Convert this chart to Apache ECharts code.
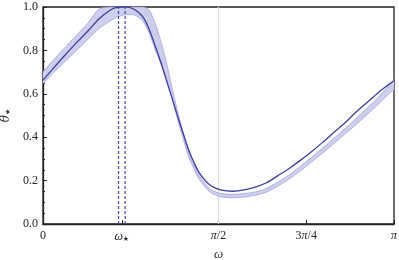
<!DOCTYPE html>
<html><head><meta charset="utf-8">
<script src="https://cdn.jsdelivr.net/npm/echarts@6/dist/echarts.min.js"></script>
<style>html,body{margin:0;padding:0;background:#fff}#c{width:399px;height:260px}</style>
</head><body><div id="c"></div>
<script>
const omega = [0.0,0.1,0.2,0.3,0.4,0.5,0.6,0.65,0.7,0.75,0.8,0.85,0.9,0.95,1.0,1.05,1.1,1.15,1.2,1.25,1.3,1.35,1.4,1.5,1.6,1.7,1.8,1.9,2.0,2.1,2.2,2.3,2.4,2.5,2.6,2.7,2.8,2.9,3.0,3.1,3.14159];
const theta = [0.663,0.722,0.780,0.836,0.888,0.945,0.985,0.997,1.0,1.0,0.993,0.977,0.950,0.898,0.826,0.752,0.670,0.588,0.505,0.425,0.347,0.285,0.235,0.177,0.156,0.151,0.157,0.170,0.190,0.222,0.255,0.292,0.332,0.375,0.420,0.465,0.515,0.560,0.605,0.645,0.660];
const bandLow = [0.648,0.700,0.750,0.800,0.850,0.900,0.935,0.950,0.960,0.965,0.965,0.955,0.930,0.880,0.810,0.745,0.680,0.588,0.490,0.402,0.315,0.256,0.204,0.145,0.125,0.121,0.124,0.132,0.147,0.174,0.206,0.243,0.284,0.326,0.369,0.413,0.457,0.504,0.551,0.602,0.620];
const bandHigh = [0.700,0.760,0.815,0.870,0.925,0.990,1.0,1.0,1.0,1.0,1.0,1.0,1.0,0.985,0.930,0.850,0.755,0.640,0.530,0.428,0.335,0.272,0.222,0.160,0.140,0.137,0.140,0.148,0.164,0.193,0.225,0.264,0.306,0.349,0.393,0.439,0.485,0.534,0.583,0.640,0.665];
const omegaStar = 0.705;
const starBounds = [0.676, 0.735];
const xTicks = [0, omegaStar, Math.PI/2, 3*Math.PI/4, Math.PI];
const xTickLabels = ['0', '{i|ω}{s|★}', '{i|π}/2', '3{i|π}/4', '{i|π}'];

const chart = echarts.init(document.getElementById('c'));
const pts = a => omega.map((w,i)=>[w,a[i]]);
const font = 'Liberation Serif';
const rich = {i:{fontStyle:'italic',fontFamily:font,fontSize:12,color:'#222'},s:{fontSize:7,fontFamily:'DejaVu Sans',verticalAlign:'bottom',padding:[6,0,0,0],color:'#222'}};
chart.setOption({
  animation:false,
  grid:{left:43,right:5,top:7,bottom:36,show:true,borderColor:'#222',borderWidth:1.3,outerBoundsMode:'none',containLabel:false},
  xAxis:{type:'value',min:0,max:Math.PI,
    name:'ω',nameLocation:'middle',nameGap:20,nameTextStyle:{fontFamily:font,fontStyle:'italic',fontSize:13,color:'#333'},
    axisLine:{show:true,onZero:false,lineStyle:{color:'#222',width:1.3}},
    axisTick:{show:true,inside:true,length:4,customValues:xTicks,lineStyle:{color:'#222'}},
    axisLabel:{customValues:xTicks,fontFamily:font,fontSize:12,color:'#222',margin:6,rich:rich,
      formatter:function(v){for(let k=0;k<xTicks.length;k++){if(Math.abs(v-xTicks[k])<1e-6)return xTickLabels[k];}return '';}},
    splitLine:{show:false}},
  yAxis:{type:'value',min:0,max:1,interval:0.2,
    name:'{t|θ̂}{s|★}',nameLocation:'middle',nameGap:27,nameRotate:90,
    nameTextStyle:{rich:{t:{fontFamily:'DejaVu Serif',fontStyle:'italic',fontSize:12,color:'#333'},s:{fontSize:7,fontFamily:'DejaVu Sans',color:'#333',padding:[6,0,0,0]}}},
    axisLine:{show:true,lineStyle:{color:'#222',width:1.3}},
    axisTick:{show:true,inside:true,length:4,lineStyle:{color:'#222'}},
    minorTick:{show:true,splitNumber:4,length:2,lineStyle:{color:'#222'}},
    axisLabel:{fontFamily:font,fontSize:12,color:'#222',margin:5,formatter:v=>v.toFixed(1)},
    splitLine:{show:false}},
  series:[
    {type:'line',data:[[Math.PI/2,0],[Math.PI/2,1]],symbol:'none',silent:true,lineStyle:{color:'#dcdcdc',width:1.2},z:1},
    {type:'custom',clip:true,z:2,silent:true,data:[0],
      renderItem:function(params,api){
        const up = omega.map((w,i)=>api.coord([w,bandHigh[i]]));
        const lo = omega.map((w,i)=>api.coord([w,bandLow[i]])).reverse();
        return {type:'polygon',shape:{points:up.concat(lo),smooth:0.25},style:{fill:'#cdcdee',stroke:null}};
      }},
    {type:'line',data:pts(bandLow),symbol:'none',smooth:0.3,lineStyle:{color:'#a4a4d8',width:0.8},z:3},
    {type:'line',data:pts(bandHigh),symbol:'none',smooth:0.3,lineStyle:{color:'#a4a4d8',width:0.8},z:3},
    {type:'line',data:[[starBounds[0],0],[starBounds[0],1]],symbol:'none',lineStyle:{color:'#4646aa',width:1.2,type:[3,2]},z:4},
    {type:'line',data:[[starBounds[1],0],[starBounds[1],1]],symbol:'none',lineStyle:{color:'#4646aa',width:1.2,type:[3,2]},z:4},
    {type:'line',data:pts(theta),symbol:'none',smooth:0.3,lineStyle:{color:'#3c3c9c',width:1.3},z:5}
  ]
});
</script></body></html>
